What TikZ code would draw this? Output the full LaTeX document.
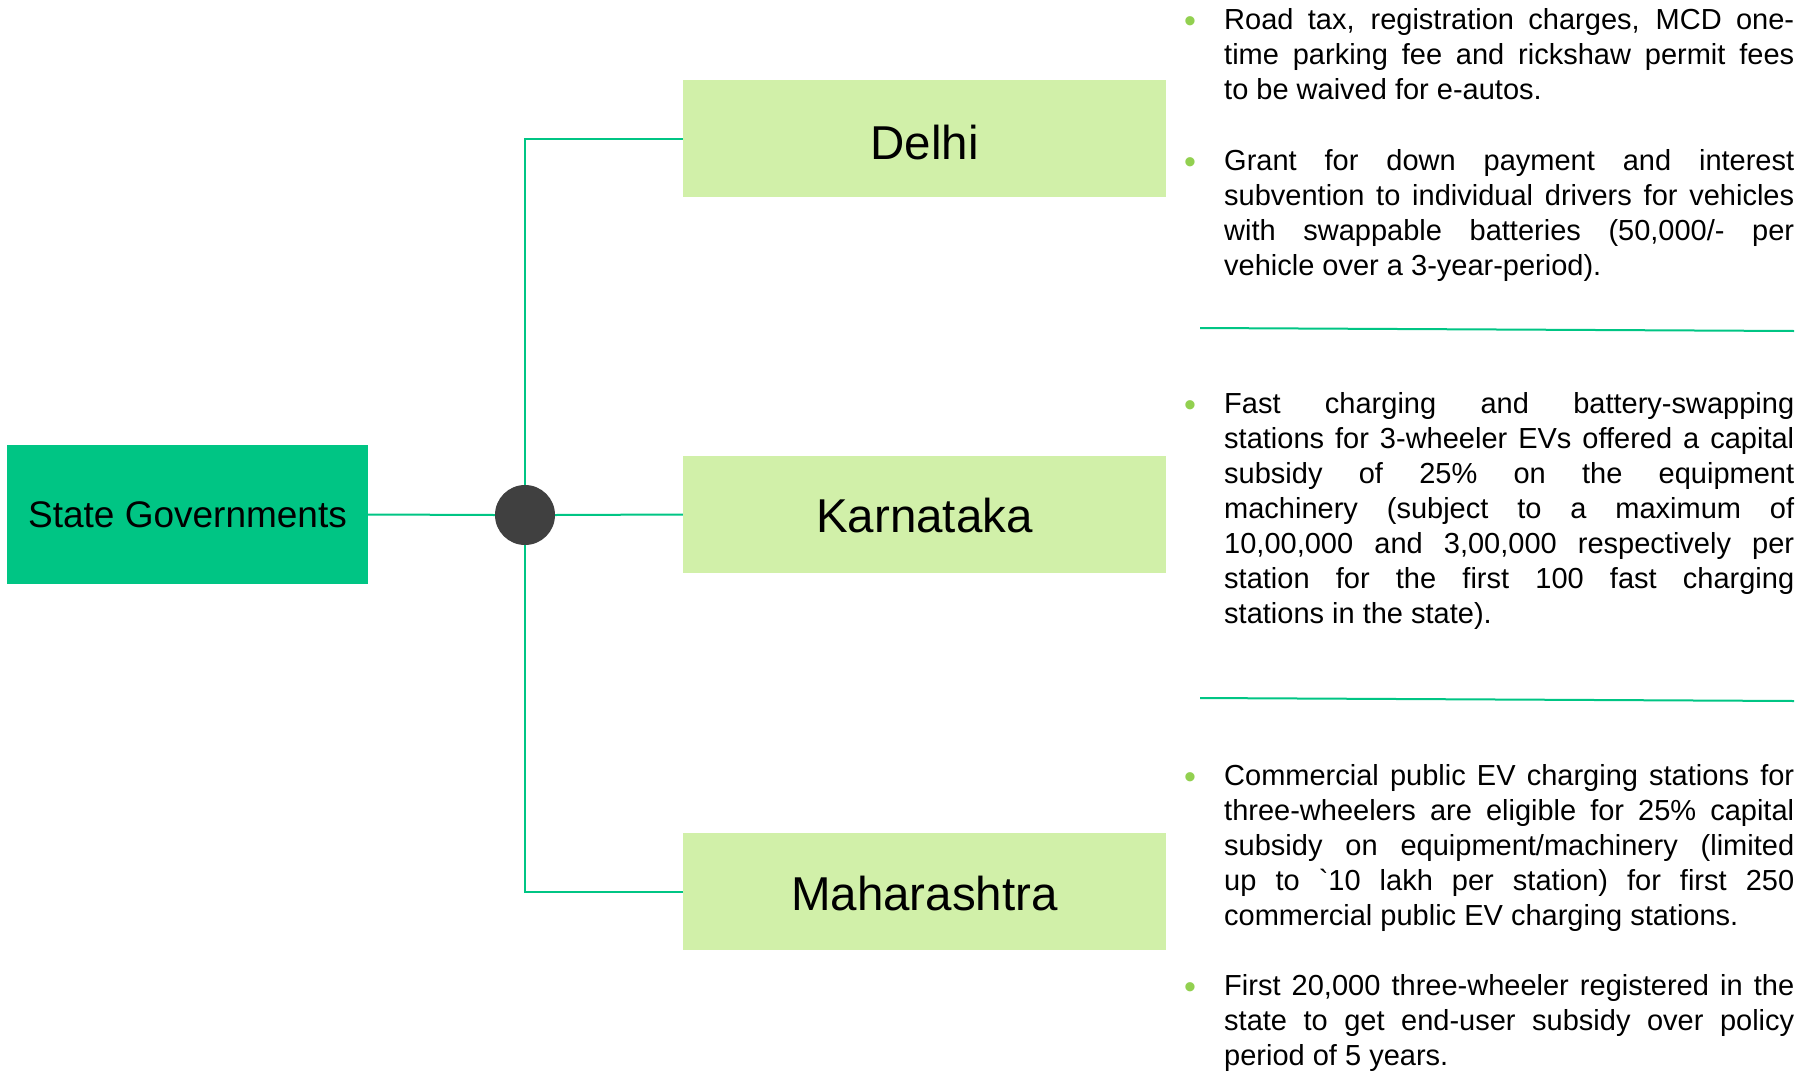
\documentclass[tikz,border=0pt]{standalone}
\usepackage{fontspec}
\setmainfont{Liberation Sans}
\definecolor{sgreen}{RGB}{0,197,132}
\definecolor{lgreen}{RGB}{209,240,169}
\definecolor{hubgray}{RGB}{64,64,64}
\definecolor{bulletgreen}{RGB}{146,208,80}
\tolerance=10000 \hbadness=10000 \hyphenpenalty=10000 \exhyphenpenalty=10000
\tikzset{
  sgbox/.style={fill=sgreen, inner sep=0pt, minimum width=361pt, minimum height=139pt, font=\fontsize{37}{44}\selectfont},
  statebox/.style={fill=lgreen, inner sep=0pt, minimum width=483pt, minimum height=117pt, text depth=0pt, font=\fontsize{47.5}{57}\selectfont},
  hubdot/.style={circle, fill=hubgray, minimum size=60pt, inner sep=0pt},
  conn/.style={draw=sgreen, line width=2pt},
  bultext/.style={anchor=base west, text width=570pt, inner sep=0pt, align=justify, font=\fontsize{29}{35}\selectfont},
  bdot/.style={anchor=base, inner sep=0pt, text=bulletgreen, font=\fontsize{34}{40}\selectfont}
}
\begin{document}
\begin{tikzpicture}[x=1pt, y=-1pt]
\useasboundingbox (0,0) rectangle (1814,1073);
% main nodes
\node[sgbox] (sg) at (187.5,514.5) {State Governments};
\node[hubdot] (hub) at (525,515) {};
\node[statebox, text height=41pt] (delhi) at (924.5,138.5) {Delhi};
\node[statebox, text height=35pt] (karn) at (924.5,514.5) {Karnataka};
\node[statebox, text height=37pt] (maha) at (924.5,891.5) {Maharashtra};
% connectors
\draw[conn] (sg.east) -- (hub.west);
\draw[conn] (hub.east) -- (karn.west);
\draw[conn] (hub.north) |- (delhi.west);
\draw[conn] (hub.south) |- (maha.west);
% separators
\coordinate (s1a) at (1200,328);
\coordinate (s1b) at (1794,331);
\coordinate (s2a) at (1200,698);
\coordinate (s2b) at (1794,701);
\draw[conn] (s1a) -- (s1b);
\draw[conn] (s2a) -- (s2b);
% bullets
\node[bdot] (b1) at (1190,33) {•};
\node[bdot] (b2) at (1190,173) {•};
\node[bdot] (b3) at (1190,416) {•};
\node[bdot] (b4) at (1190,788) {•};
\node[bdot] (b5) at (1190,998) {•};
% texts
\node[bultext] (t1) at (1224,30) {Road tax, registration charges, MCD one-\linebreak time parking fee and rickshaw permit fees\linebreak to be waived for e-autos.};
\node[bultext] (t2) at (1224,170) {Grant for down payment and interest\linebreak subvention to individual drivers for vehicles\linebreak with swappable batteries (50,000/- per\linebreak vehicle over a 3-year-period).};
\node[bultext] (t3) at (1224,413) {Fast charging and battery-swapping\linebreak stations for 3-wheeler EVs offered a capital\linebreak subsidy of 25\% on the equipment\linebreak machinery (subject to a maximum of\linebreak 10,00,000 and 3,00,000 respectively per\linebreak station for the first 100 fast charging\linebreak stations in the state).};
\node[bultext] (t4) at (1224,785) {Commercial public EV charging stations for\linebreak three-wheelers are eligible for 25\% capital\linebreak subsidy on equipment/machinery (limited\linebreak up to \textasciigrave 10 lakh per station) for first 250\linebreak commercial public EV charging stations.};
\node[bultext] (t5) at (1224,995) {First 20,000 three-wheeler registered in the\linebreak state to get end-user subsidy over policy\linebreak period of 5 years.};
\end{tikzpicture}
\end{document}
